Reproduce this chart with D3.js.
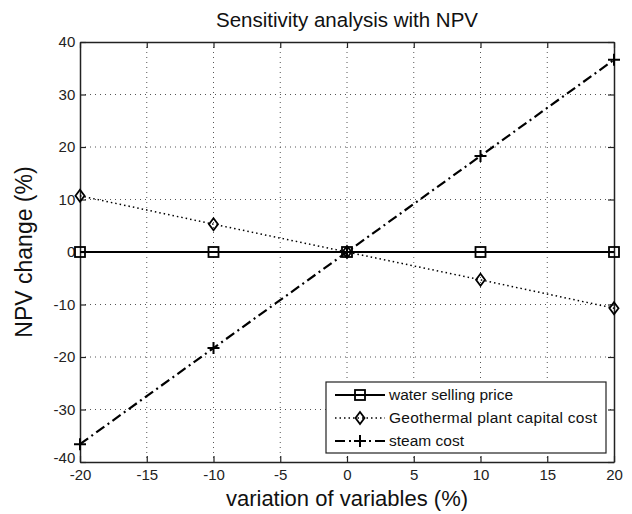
<!DOCTYPE html>
<html>
<head>
<meta charset="utf-8">
<script src="https://cdn.jsdelivr.net/npm/d3@7"></script>
<style>
  body { margin: 0; background: #fff; }
  svg { display: block; font-family: "Liberation Sans", Arial, sans-serif; }
</style>
</head>
<body>
<div id="chart"></div>
<script>
// 数据：变量变化百分比与 NPV 变化
const variation = [-20, -10, 0, 10, 20];
const waterPrice = [0, 0, 0, 0, 0];
const capitalCost = [10.7, 5.3, 0, -5.3, -10.7];
const steamCost = [-36.6, -18.3, 0, 18.3, 36.6];
const xTicks = [-20, -15, -10, -5, 0, 5, 10, 15, 20];
const yTicks = [-40, -30, -20, -10, 0, 10, 20, 30, 40];

const width = 632, height = 514;
const margin = { top: 42, right: 18, bottom: 52, left: 80 };

const svg = d3.select("#chart").append("svg")
  .attr("width", width)
  .attr("height", height);

const x = d3.scaleLinear().domain([-20, 20]).range([margin.left, width - margin.right]);
const y = d3.scaleLinear().domain([-40, 40]).range([height - margin.bottom, margin.top]);

const fmt = d => String(d); // 用普通连字符做负号

// 网格线（点线）
const grid = svg.append("g").attr("stroke", "#555").attr("stroke-width", 1).attr("stroke-dasharray", "1,4");
grid.selectAll("line.gx").data(xTicks.slice(1, -1)).enter().append("line")
  .attr("x1", d => x(d)).attr("x2", d => x(d))
  .attr("y1", y(40)).attr("y2", y(-40));
grid.selectAll("line.gy").data(yTicks.slice(1, -1)).enter().append("line")
  .attr("x1", x(-20)).attr("x2", x(20))
  .attr("y1", d => y(d)).attr("y2", d => y(d));

// 坐标轴（刻度朝内）
const axB = svg.append("g").attr("transform", `translate(0,${y(-40)})`)
  .call(d3.axisBottom(x).tickValues(xTicks).tickFormat(fmt).tickSizeInner(-6).tickSizeOuter(0).tickPadding(7));
const axT = svg.append("g").attr("transform", `translate(0,${y(40)})`)
  .call(d3.axisTop(x).tickValues(xTicks).tickSizeInner(-6).tickSizeOuter(0).tickFormat(""));
const axL = svg.append("g").attr("transform", `translate(${x(-20)},0)`)
  .call(d3.axisLeft(y).tickValues(yTicks).tickFormat(fmt).tickSizeInner(-6).tickSizeOuter(0).tickPadding(10));
const axR = svg.append("g").attr("transform", `translate(${x(20)},0)`)
  .call(d3.axisRight(y).tickValues(yTicks).tickSizeInner(-6).tickSizeOuter(0).tickFormat(""));

[axB, axT, axL, axR].forEach(g => {
  g.select(".domain").attr("stroke", "#222").attr("stroke-width", 1.5);
  g.selectAll(".tick line").attr("stroke", "#222").attr("stroke-width", 1.2);
  g.selectAll("text").attr("font-size", 15).attr("fill", "#222")
    .attr("font-family", "\"Liberation Sans\", Arial, sans-serif");
});
axB.selectAll("text").attr("dy", "0.75em");
axL.selectAll("text").attr("dx", "0.35em");
// -40 标签略微上移，避免与 -20 重叠
axL.selectAll(".tick text").filter(d => d === -40).attr("dy", "0.05em");

// 折线
const line = d3.line().x(d => x(d[0])).y(d => y(d[1]));
const series = [
  { name: "water selling price", values: waterPrice, dash: null, width: 2, marker: "square" },
  { name: "Geothermal plant capital cost", values: capitalCost, dash: "1.5,3", width: 1.5, marker: "diamond" },
  { name: "steam cost", values: steamCost, dash: "10,4,2,4", width: 2.2, marker: "plus" }
];

function drawMarker(g, type, cx, cy) {
  if (type === "square") {
    g.append("rect").attr("x", cx - 5).attr("y", cy - 5).attr("width", 10).attr("height", 10)
      .attr("fill", "none").attr("stroke", "#000").attr("stroke-width", 1.8);
  } else if (type === "diamond") {
    g.append("path").attr("d", `M${cx},${cy - 6}L${cx + 4.5},${cy}L${cx},${cy + 6}L${cx - 4.5},${cy}Z`)
      .attr("fill", "none").attr("stroke", "#000").attr("stroke-width", 1.8);
  } else {
    g.append("path").attr("d", `M${cx - 6},${cy}H${cx + 6}M${cx},${cy - 6}V${cy + 6}`)
      .attr("stroke", "#000").attr("stroke-width", 2);
  }
}

series.forEach(s => {
  const pts = variation.map((v, i) => [v, s.values[i]]);
  svg.append("path").datum(pts)
    .attr("d", line)
    .attr("fill", "none")
    .attr("stroke", "#000")
    .attr("stroke-width", s.width)
    .attr("stroke-dasharray", s.dash);
  const mg = svg.append("g");
  pts.forEach(p => drawMarker(mg, s.marker, x(p[0]), y(p[1])));
});

// 图例
const lg = svg.append("g").attr("transform", "translate(326,382)");
lg.append("rect").attr("width", 280).attr("height", 71)
  .attr("fill", "#fff").attr("stroke", "#222").attr("stroke-width", 1.2);
series.forEach((s, i) => {
  const cy = 13 + i * 23;
  lg.append("line").attr("x1", 9).attr("x2", 59).attr("y1", cy).attr("y2", cy)
    .attr("stroke", "#000").attr("stroke-width", s.width).attr("stroke-dasharray", s.dash);
  drawMarker(lg, s.marker, 34, cy);
  lg.append("text").attr("x", 63).attr("y", cy).attr("dy", "0.35em")
    .attr("font-size", 15.5).attr("fill", "#111")
    .attr("textLength", i === 1 ? 208 : null)
    .text(s.name);
});

// 标题与轴标题
svg.append("text").attr("x", (x(-20) + x(20)) / 2).attr("y", 27)
  .attr("text-anchor", "middle").attr("font-size", 20.5).attr("fill", "#111")
  .text("Sensitivity analysis with NPV");
svg.append("text").attr("x", (x(-20) + x(20)) / 2).attr("y", 506)
  .attr("text-anchor", "middle").attr("font-size", 22).attr("fill", "#111")
  .text("variation of variables (%)");
svg.append("text")
  .attr("transform", `translate(32,${(y(40) + y(-40)) / 2}) rotate(-90)`)
  .attr("text-anchor", "middle").attr("font-size", 23).attr("fill", "#111")
  .text("NPV change (%)");
</script>
</body>
</html>
